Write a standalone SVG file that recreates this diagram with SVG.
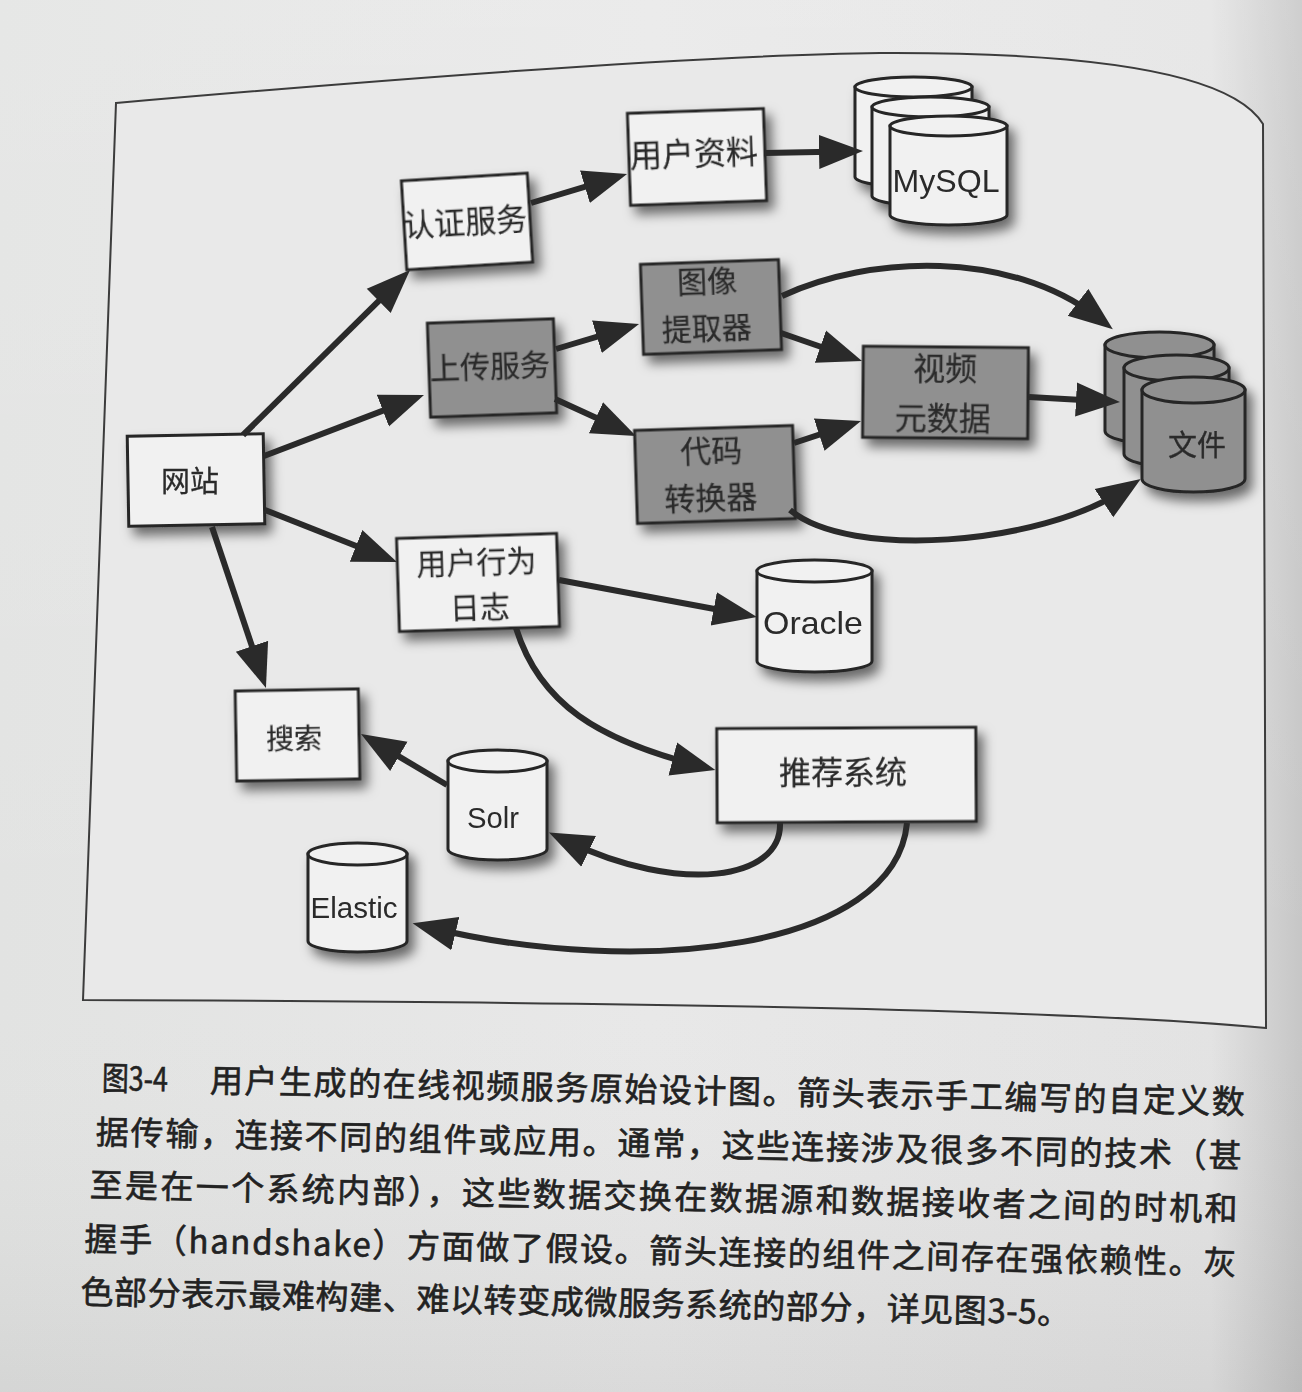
<svg xmlns="http://www.w3.org/2000/svg" width="1302" height="1392" viewBox="0 0 1302 1392">
  <defs>
    <linearGradient id="paper" x1="0" y1="0" x2="1" y2="0">
      <stop offset="0" stop-color="#e2e3e2"/>
      <stop offset="0.5" stop-color="#e8e8e8"/>
      <stop offset="0.93" stop-color="#e3e3e3"/>
      <stop offset="1" stop-color="#c6c6c6"/>
    </linearGradient>
    <linearGradient id="paperV" x1="0" y1="0" x2="0" y2="1">
      <stop offset="0" stop-color="#ffffff" stop-opacity="0.15"/>
      <stop offset="0.7" stop-color="#ffffff" stop-opacity="0"/>
      <stop offset="1" stop-color="#000000" stop-opacity="0.06"/>
    </linearGradient>
    <filter id="sh" x="-25%" y="-25%" width="160%" height="170%">
      <feDropShadow dx="6" dy="8" stdDeviation="6" flood-color="#000" flood-opacity="0.55"/>
    </filter>
    <marker id="ah" markerUnits="userSpaceOnUse" markerWidth="46" markerHeight="36" refX="24" refY="17" orient="auto" viewBox="0 0 46 34">
      <path d="M0,0 L44,17 L0,34 Z" fill="#2a2a2a"/>
    </marker>
  </defs>
  <style>
    .box { stroke: #262626; stroke-width: 3; }
    .light { fill: #f1f1f1; }
    .dark { fill: #909090; }
    .cyl { stroke: #262626; stroke-width: 3; }
    .lbl { font-family: "Noto Sans CJK SC", "Liberation Sans", sans-serif; fill: #2b2b2b; stroke: #2b2b2b; stroke-width: 0.3; text-anchor: middle; }
    .lat { font-family: "Liberation Sans", "Noto Sans", sans-serif; fill: #2b2b2b; text-anchor: middle; }
    .conn { fill: none; stroke: #2a2a2a; stroke-width: 6; marker-end: url(#ah); }
    .cap { font-family: "Noto Sans CJK SC", "Noto Sans", sans-serif; font-size: 33px; fill: #222222; stroke: #222222; stroke-width: 0.6; }
  </style>

  <rect x="0" y="0" width="1302" height="1392" fill="url(#paper)"/>
  <rect x="0" y="0" width="1302" height="1392" fill="url(#paperV)"/>

  <g id="frame">
    <path d="M116,103 C 380,80 700,55 880,53 C 1080,52 1230,70 1263,124 L 1266,1028 C 1100,1012 700,1002 83,1000 Z" fill="#e9e9e9" stroke="#3c3c3c" stroke-width="2"/>
  </g>

  <g id="n-website" filter="url(#sh)">
    <rect class="box light" x="128" y="435" width="136" height="90" transform="rotate(-1 196 480)"/>
    <text class="lbl" x="190" y="492" font-size="29">网站</text>
  </g>

  <g id="n-auth" filter="url(#sh)" transform="rotate(-3.5 467 221)">
    <rect class="box light" x="404" y="177" width="126" height="89"/>
    <text class="lbl" x="465" y="233" font-size="31">认证服务</text>
  </g>

  <g id="n-profile" filter="url(#sh)" transform="rotate(-2 697 157)">
    <rect class="box light" x="629" y="111" width="136" height="92"/>
    <text class="lbl" x="694" y="165" font-size="32">用户资料</text>
  </g>

  <g id="n-mysql" filter="url(#sh)">
    <path class="cyl light" d="M855,87 V177 A58.5,10 0 0 0 972,177 V87 Z"/>
    <ellipse class="cyl light" cx="913.5" cy="87" rx="58.5" ry="10"/>
    <path class="cyl light" d="M872,107 V196 A58.5,10 0 0 0 989,196 V107 Z"/>
    <ellipse class="cyl light" cx="930.5" cy="107" rx="58.5" ry="10"/>
    <path class="cyl light" d="M890,126 V215 A58.5,10 0 0 0 1007,215 V126 Z"/>
    <ellipse class="cyl light" cx="948.5" cy="126" rx="58.5" ry="10"/>
    <text class="lat" x="946" y="192" font-size="32" textLength="107" lengthAdjust="spacingAndGlyphs">MySQL</text>
  </g>

  <g id="n-upload" filter="url(#sh)" transform="rotate(-2 492 368)">
    <rect class="box dark" x="429" y="321" width="126" height="94"/>
    <text class="lbl" x="490" y="377" font-size="30">上传服务</text>
  </g>

  <g id="n-image" filter="url(#sh)" transform="rotate(-2 711 307)">
    <rect class="box dark" x="642" y="262" width="138" height="90"/>
    <text class="lbl" x="708" y="292" font-size="30">图像</text>
    <text class="lbl" x="706" y="339" font-size="30">提取器</text>
  </g>

  <g id="n-meta" filter="url(#sh)" transform="rotate(0.5 945 392)">
    <rect class="box dark" x="863" y="347" width="165" height="91"/>
    <text class="lbl" x="945" y="380" font-size="32">视频</text>
    <text class="lbl" x="943" y="430" font-size="32">元数据</text>
  </g>

  <g id="n-transcode" filter="url(#sh)" transform="rotate(-1.8 715 474)">
    <rect class="box dark" x="636" y="428" width="158" height="93"/>
    <text class="lbl" x="712" y="462" font-size="31">代码</text>
    <text class="lbl" x="710" y="509" font-size="31">转换器</text>
  </g>

  <g id="n-files" filter="url(#sh)">
    <path class="cyl dark" d="M1105,345 V431 A54.5,13 0 0 0 1214,431 V345 Z"/>
    <ellipse class="cyl dark" cx="1159.5" cy="345" rx="54.5" ry="13"/>
    <path class="cyl dark" d="M1124,368 V454 A52.5,13 0 0 0 1229,454 V368 Z"/>
    <ellipse class="cyl dark" cx="1176.5" cy="368" rx="52.5" ry="13"/>
    <path class="cyl dark" d="M1142,390 V479 A51.5,13 0 0 0 1245,479 V390 Z"/>
    <ellipse class="cyl dark" cx="1193.5" cy="390" rx="51.5" ry="13"/>
    <text class="lbl" x="1197" y="456" font-size="29">文件</text>
  </g>

  <g id="n-log" filter="url(#sh)" transform="rotate(-1.8 478 582)">
    <rect class="box light" x="398" y="536" width="160" height="93"/>
    <text class="lbl" x="477" y="573" font-size="30">用户行为</text>
    <text class="lbl" x="479" y="618" font-size="30">日志</text>
  </g>

  <g id="n-oracle" filter="url(#sh)">
    <path class="cyl light" d="M757,571 V661 A57.5,11 0 0 0 872,661 V571 Z"/>
    <ellipse class="cyl light" cx="814.5" cy="571" rx="57.5" ry="11"/>
    <text class="lat" x="813" y="634" font-size="32" textLength="100" lengthAdjust="spacingAndGlyphs">Oracle</text>
  </g>

  <g id="n-search" filter="url(#sh)" transform="rotate(-1 297 735)">
    <rect class="box light" x="236" y="690" width="123" height="90"/>
    <text class="lbl" x="294" y="749" font-size="28">搜索</text>
  </g>

  <g id="n-recommend" filter="url(#sh)" transform="rotate(-0.3 846 775)">
    <rect class="box light" x="717" y="728" width="259" height="94"/>
    <text class="lbl" x="843" y="784" font-size="32">推荐系统</text>
  </g>

  <g id="n-solr" filter="url(#sh)">
    <path class="cyl light" d="M448,761 V849 A49.5,11 0 0 0 547,849 V761 Z"/>
    <ellipse class="cyl light" cx="497.5" cy="761" rx="49.5" ry="11"/>
    <text class="lat" x="493" y="828" font-size="30" textLength="52" lengthAdjust="spacingAndGlyphs">Solr</text>
  </g>

  <g id="n-elastic" filter="url(#sh)">
    <path class="cyl light" d="M308,854 V941 A49.5,11 0 0 0 407,941 V854 Z"/>
    <ellipse class="cyl light" cx="357.5" cy="854" rx="49.5" ry="11"/>
    <text class="lat" x="354" y="918" font-size="30" textLength="87" lengthAdjust="spacingAndGlyphs">Elastic</text>
  </g>

  <g id="connectors">
    <path class="conn" d="M243,435 L395.8,284.1"/>
    <path class="conn" d="M264,456 L405.3,402.1"/>
    <path class="conn" d="M265,510 L378.4,554.7"/>
    <path class="conn" d="M212,527 L259.6,669"/>
    <path class="conn" d="M531,203 L607.9,179.8"/>
    <path class="conn" d="M765,153 L843,151.4"/>
    <path class="conn" d="M556,349 L619.9,329.8"/>
    <path class="conn" d="M555,399 L617.8,427.7"/>
    <path class="conn" d="M781,333 L843.1,354.5"/>
    <path class="conn" d="M794,443 L842,427.2"/>
    <path class="conn" d="M1029,397 L1100,400.9"/>
    <path class="conn" d="M782,296 C 870,255 1010,250 1097,317"/>
    <path class="conn" d="M790,510 C 850,560 1040,545 1124,490"/>
    <path class="conn" d="M559,580 L737.3,613.3"/>
    <path class="conn" d="M516,628 C 540,705 600,740 696,765"/>
    <path class="conn" d="M447,785 L378.2,744.2"/>
    <path class="conn" d="M780,823 C 782,880 680,895 567,841"/>
    <path class="conn" d="M907,823 C 895,950 640,978 432,928"/>
  </g>

  <g id="caption" transform="rotate(1.2 100 1077)">
    <text class="cap" x="102" y="1090" textLength="66" lengthAdjust="spacingAndGlyphs">图3-4</text>
    <text class="cap" x="210" y="1090" textLength="1035" lengthAdjust="spacing">用户生成的在线视频服务原始设计图。箭头表示手工编写的自定义数</text>
    <text class="cap" x="97" y="1144" textLength="1146" lengthAdjust="spacing">据传输，连接不同的组件或应用。通常，这些连接涉及很多不同的技术（甚</text>
    <text class="cap" x="92" y="1197" textLength="1148" lengthAdjust="spacing">至是在一个系统内部），这些数据交换在数据源和数据接收者之间的时机和</text>
    <text class="cap" x="88" y="1251" textLength="1152" lengthAdjust="spacing">握手（handshake）方面做了假设。箭头连接的组件之间存在强依赖性。灰</text>
    <text class="cap" x="85" y="1304" textLength="990" lengthAdjust="spacing">色部分表示最难构建、难以转变成微服务系统的部分，详见图3-5。</text>
  </g>
</svg>
